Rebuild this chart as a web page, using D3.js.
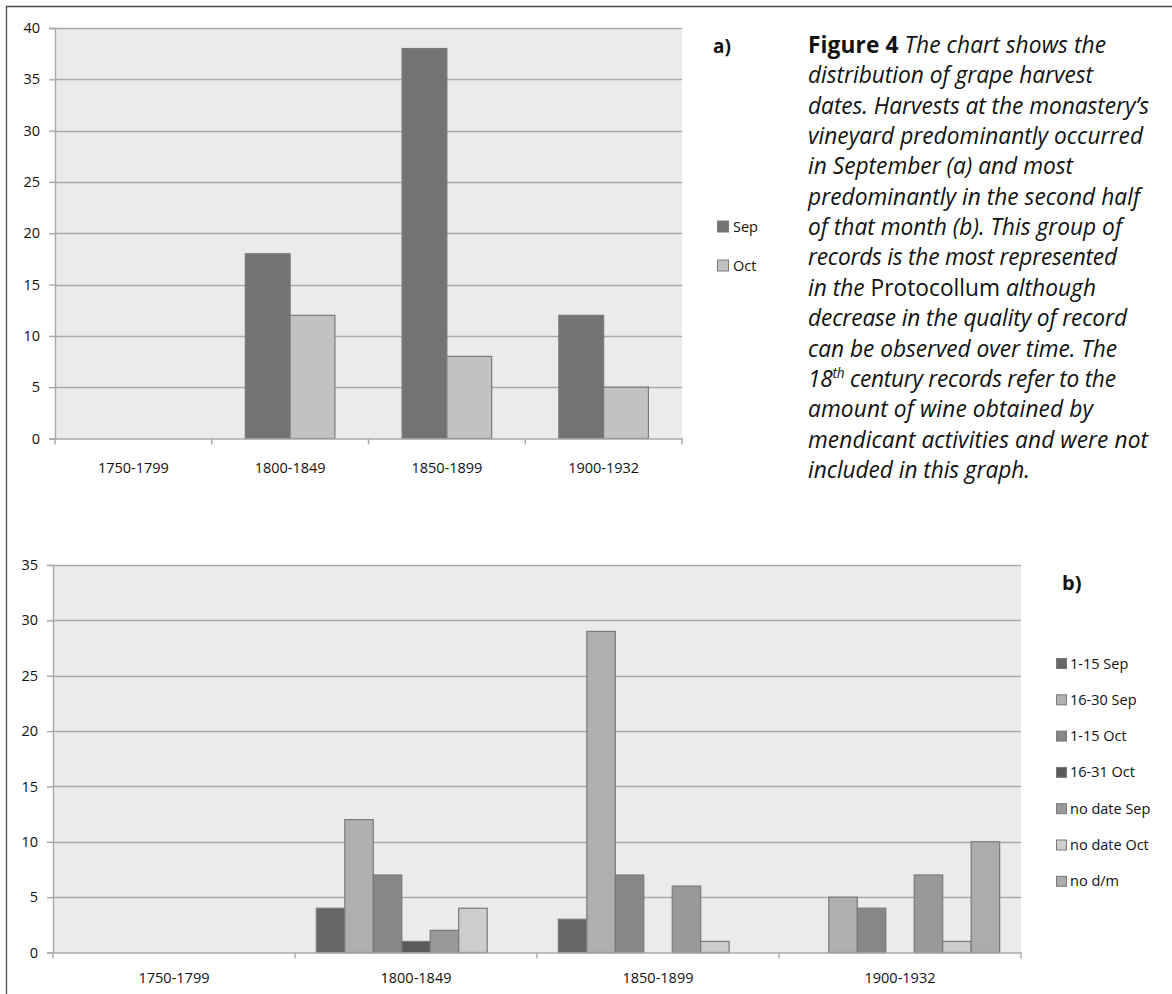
<!DOCTYPE html>
<html>
<head>
<meta charset="utf-8">
<script src="https://cdn.jsdelivr.net/npm/d3@7"></script>
<style>
  html, body { margin: 0; padding: 0; background: #ffffff; }
  svg { display: block; }
</style>
</head>
<body>
<svg id="fig" width="1172" height="994"></svg>
<script>
// ---- data ----
const periods = ["1750-1799", "1800-1849", "1850-1899", "1900-1932"];

// panel a: harvest month
const monthSeries = ["Sep", "Oct"];
const sepCounts = [0, 18, 38, 12];
const octCounts = [0, 12, 8, 5];
const monthTicks = [0, 5, 10, 15, 20, 25, 30, 35, 40];

// panel b: half-month of harvest
const halfSeries = ["1-15 Sep", "16-30 Sep", "1-15 Oct", "16-31 Oct", "no date Sep", "no date Oct", "no d/m"];
const sep1to15 = [0, 4, 3, 0];
const sep16to30 = [0, 12, 29, 5];
const oct1to15 = [0, 7, 7, 4];
const oct16to31 = [0, 1, 0, 0];
const noDateSep = [0, 2, 6, 7];
const noDateOct = [0, 4, 1, 1];
const noDayMonth = [0, 0, 0, 10];
const halfTicks = [0, 5, 10, 15, 20, 25, 30, 35];

// caption text, one entry per printed line; each segment: [text, style]
const captionLines = [
  [["Figure 4", "b"], [" The chart shows the", "i"]],
  [["distribution of grape harvest", "i"]],
  [["dates. Harvests at the monastery\u2019s", "i"]],
  [["vineyard predominantly occurred", "i"]],
  [["in September (a) and most", "i"]],
  [["predominantly in the second half", "i"]],
  [["of that month (b). This group of", "i"]],
  [["records is the most represented", "i"]],
  [["in the ", "i"], ["Protocollum", "r"], [" although", "i"]],
  [["decrease in the quality of record", "i"]],
  [["can be observed over time. The", "i"]],
  [["18", "i"], ["th", "sup"], [" century records refer to the", "i"]],
  [["amount of wine obtained by", "i"]],
  [["mendicant activities and were not", "i"]],
  [["included in this graph.", "i"]]
];

// ---- styling ----
const FONT = "'Open Sans', 'Noto Sans', sans-serif";
const LABEL_SIZE = 14.5;
const GRID = "#a9a9a9";
const PLOT_BG = "#ebebeb";
const BAR_STROKE = "#7a7a7a";

const monthColors = ["#737373", "#c2c2c2"];
const halfColors = ["#686868", "#b0b0b0", "#878787", "#5a5a5a", "#999999", "#cdcdcd", "#acacac"];

const svg = d3.select("#fig");

// page frame
svg.append("line").attr("x1", 6).attr("x2", 1172).attr("y1", 6.5).attr("y2", 6.5)
  .attr("stroke", "#4a4a4a").attr("stroke-width", 1.3);
svg.append("line").attr("x1", 6.5).attr("x2", 6.5).attr("y1", 6).attr("y2", 994)
  .attr("stroke", "#4a4a4a").attr("stroke-width", 1.3);

function barChart(opts) {
  const { left, right, top, bottom, yMax, ticks, series, values, colors, labelY } = opts;

  const x = d3.scaleBand().domain(periods).range([left, right]).paddingInner(0).paddingOuter(0);
  const xs = d3.scaleBand().domain(series).range([0, x.bandwidth()]).paddingInner(0).paddingOuter(0.75);
  const y = d3.scaleLinear().domain([0, yMax]).range([bottom, top]);

  const g = svg.append("g");

  // plot background
  g.append("rect").attr("x", left).attr("y", top)
    .attr("width", right - left).attr("height", bottom - top)
    .attr("fill", PLOT_BG);

  // horizontal gridlines
  g.append("g").selectAll("line").data(ticks.filter(t => t > 0)).join("line")
    .attr("x1", left).attr("x2", right)
    .attr("y1", d => Math.round(y(d)) + 0.5).attr("y2", d => Math.round(y(d)) + 0.5)
    .attr("stroke", GRID).attr("stroke-width", 1.4);

  // bars
  series.forEach((s, i) => {
    g.append("g").selectAll("rect").data(values[i].map((v, j) => ({ p: periods[j], v }))
      .filter(d => d.v > 0)).join("rect")
      .attr("x", d => x(d.p) + xs(s))
      .attr("y", d => y(d.v))
      .attr("width", xs.bandwidth())
      .attr("height", d => y(0) - y(d.v))
      .attr("fill", colors[i])
      .attr("stroke", BAR_STROKE).attr("stroke-width", 1.2);
  });

  // y axis
  const yAxis = d3.axisLeft(y).tickValues(ticks).tickSize(6).tickPadding(9);
  const ya = g.append("g").attr("transform", `translate(${left},0)`).call(yAxis);
  ya.select(".domain").attr("stroke", GRID).attr("stroke-width", 1.4);
  ya.selectAll(".tick line").attr("stroke", GRID).attr("stroke-width", 1.4);
  ya.selectAll(".tick text").attr("font-family", FONT).attr("font-size", LABEL_SIZE).attr("fill", "#111");

  // x axis: category labels centred, tick marks at category boundaries
  const xAxis = d3.axisBottom(x).tickSize(0).tickPadding(0);
  const xa = g.append("g").attr("transform", `translate(0,${y(0)})`).call(xAxis);
  xa.select(".domain").attr("stroke", GRID).attr("stroke-width", 1.4);
  xa.selectAll(".tick text").attr("font-family", FONT).attr("font-size", LABEL_SIZE)
    .attr("fill", "#111").attr("dy", 0).attr("y", labelY - y(0)).attr("dominant-baseline", "central");
  const bounds = periods.map(p => x(p)).concat([right]);
  g.append("g").selectAll("line").data(bounds).join("line")
    .attr("x1", d => d).attr("x2", d => d)
    .attr("y1", y(0)).attr("y2", y(0) + 6)
    .attr("stroke", GRID).attr("stroke-width", 1.4);

  return g;
}

function legend(items, colors, x0, y0, step, size, textX) {
  const lg = svg.append("g");
  items.forEach((name, i) => {
    const cy = y0 + i * step;
    lg.append("rect").attr("x", x0 + 0.5).attr("y", cy - size / 2 + 0.5)
      .attr("width", size).attr("height", size)
      .attr("fill", colors[i]).attr("stroke", BAR_STROKE).attr("stroke-width", 1);
    lg.append("text").attr("x", textX).attr("y", cy)
      .attr("dominant-baseline", "central")
      .attr("font-family", FONT).attr("font-size", LABEL_SIZE).attr("fill", "#111")
      .text(name);
  });
}

// panel a
barChart({
  left: 55, right: 682, top: 28, bottom: 438.5, yMax: 40, ticks: monthTicks,
  series: monthSeries, values: [sepCounts, octCounts], colors: monthColors, labelY: 467
});
legend(monthSeries, monthColors, 717, 226, 39, 11, 733);
svg.append("text").attr("x", 713).attr("y", 53)
  .attr("font-family", FONT).attr("font-weight", 700).attr("font-size", 19).attr("fill", "#111")
  .text("a)");

// panel b
barChart({
  left: 53, right: 1021, top: 565, bottom: 952.5, yMax: 35, ticks: halfTicks,
  series: halfSeries,
  values: [sep1to15, sep16to30, oct1to15, oct16to31, noDateSep, noDateOct, noDayMonth],
  colors: halfColors, labelY: 977
});
legend(halfSeries, halfColors, 1056, 663, 36.3, 10, 1070);
svg.append("text").attr("x", 1062).attr("y", 590)
  .attr("font-family", FONT).attr("font-weight", 700).attr("font-size", 20).attr("fill", "#111")
  .text("b)");

// caption block
const capX = 808, capY0 = 53, capLead = 30.35;
const capWidths = [298, 285, 341, 335, 265, 332, 314, 309, 288, 319, 309, 308, 285, 340, 222];
const cap = svg.append("g").attr("font-family", FONT).attr("fill", "#111");

function writeLine(line, i, size) {
  const t = cap.append("text").attr("x", capX).attr("y", capY0 + i * capLead).attr("font-size", size);
  line.forEach(([txt, st]) => {
    const ts = t.append("tspan").text(txt);
    if (st === "b") ts.attr("font-weight", 700);
    if (st === "i") ts.attr("font-style", "italic");
    if (st === "sup") ts.attr("font-style", "italic").attr("font-size", size * 0.6).attr("dy", -size * 0.38);
    if (st === "i" && line.some(s => s[1] === "sup") && txt.startsWith(" ")) ts.attr("dy", size * 0.38);
  });
  return t;
}

// find a common size that fits the line widths, then fine-tune each line
const base = 20;
let ratios = [];
captionLines.forEach((line, i) => {
  const t = writeLine(line, i, base);
  ratios.push(capWidths[i] / t.node().getComputedTextLength());
  t.remove();
});
const capSize = base * d3.median(ratios);
captionLines.forEach((line, i) => {
  const t = writeLine(line, i, capSize);
  t.attr("textLength", capWidths[i]).attr("lengthAdjust", "spacing");
});
</script>
</body>
</html>
